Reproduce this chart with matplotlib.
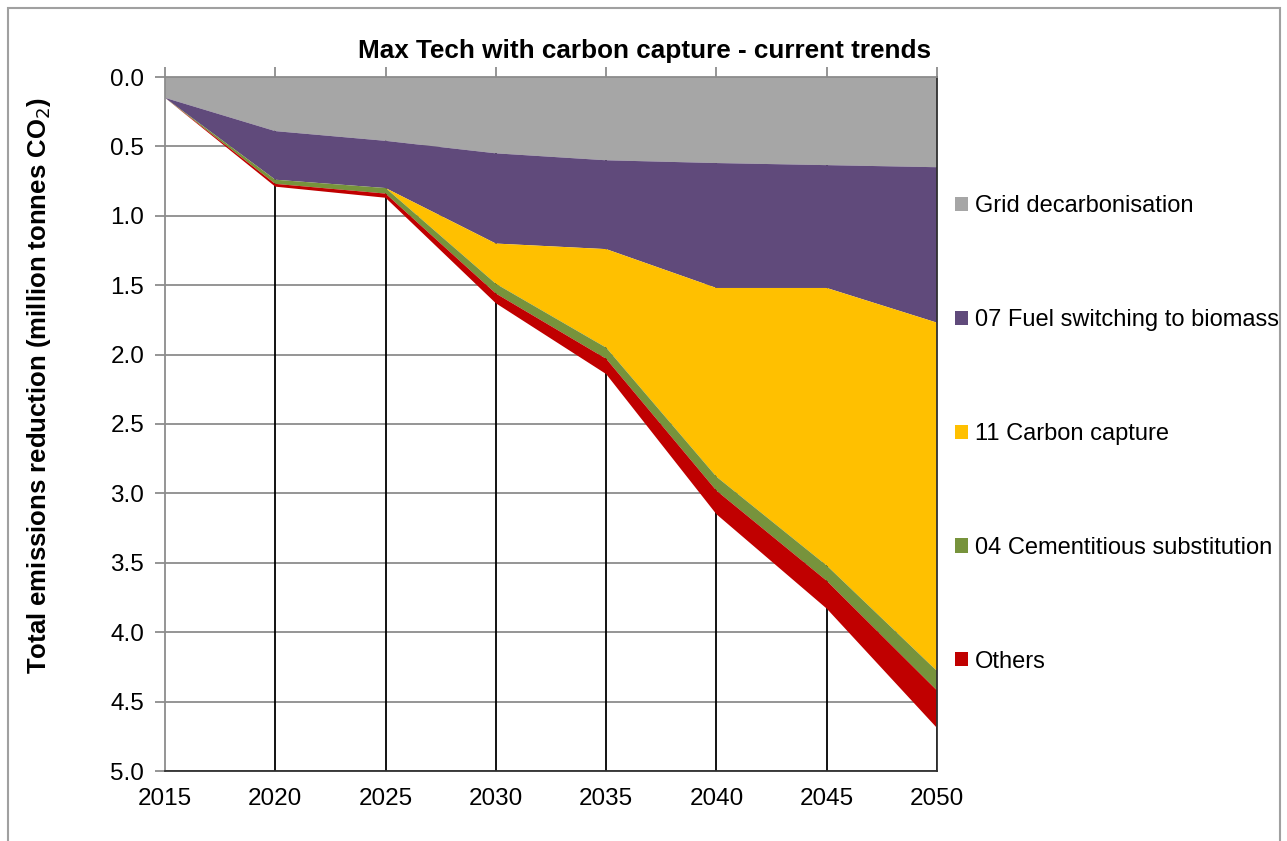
import numpy as np
import matplotlib
matplotlib.use('Agg')
import matplotlib.pyplot as plt
from matplotlib.patches import Patch, Rectangle

plt.rcParams['font.family'] = ['Liberation Sans', 'DejaVu Sans']

years = [2015, 2020, 2025, 2030, 2035, 2040, 2045, 2050]
labels = ['Grid decarbonisation', '07 Fuel switching to biomass', '11 Carbon capture',
          '04 Cementitious substitution', 'Others']
colors = ['#A6A6A6', '#604A7B', '#FFC000', '#77933C', '#C00000']

# reduction per measure (million tonnes CO2)
grid = [0.15, 0.39, 0.46, 0.55, 0.60, 0.62, 0.635, 0.65]
biomass = [0.0, 0.35, 0.34, 0.65, 0.64, 0.90, 0.885, 1.12]
ccs = [0.0, 0.0, 0.0, 0.29, 0.71, 1.36, 2.00, 2.51]
cement = [0.0, 0.03, 0.04, 0.07, 0.08, 0.10, 0.11, 0.14]
others = [0.0, 0.02, 0.03, 0.07, 0.11, 0.17, 0.20, 0.27]

series = [grid, biomass, ccs, cement, others]

fig = plt.figure(figsize=(12.87, 8.41), dpi=100)
ax = fig.add_axes([165/1287, 1 - 771/841, (937-165)/1287, (771-77)/841])

# outer frame of the chart
fig.patches.append(Rectangle((8/1287, -0.01), 1272/1287, 1 - 8/841 + 0.01, transform=fig.transFigure,
                             fill=False, edgecolor='#A0A0A0', linewidth=1.5))

ax.stackplot(years, *series, colors=colors, labels=labels, zorder=3, linewidth=0)
ax.vlines(years[1:], 0, 5, color='black', linewidth=1.3, zorder=2)

ax.set_xlim(2015, 2050)
ax.set_ylim(5, 0)
ax.set_yticks(np.arange(0, 5.01, 0.5))
ax.set_yticklabels(['%.1f' % v for v in np.arange(0, 5.01, 0.5)], fontsize=17.5)
ax.set_xticks(years)
ax.set_xticklabels([str(y) for y in years], fontsize=17.5)
ax.grid(axis='y', color='#8C8C8C', linewidth=1.3, zorder=1)
ax.set_axisbelow(True)

ax.tick_params(axis='x', bottom=False, top=True, labelbottom=True, direction='out',
               length=7, color='#8C8C8C', width=1.3, pad=5)
ax.tick_params(axis='y', direction='out', length=7, color='#8C8C8C', width=1.3, pad=8)
ax.spines['left'].set_color('#8C8C8C')
ax.spines['top'].set_color('#8C8C8C')
ax.spines['bottom'].set_color('#303030')
ax.spines['right'].set_color('#303030')
for s in ax.spines.values():
    s.set_linewidth(1.3)
    s.set_zorder(4)

ax.set_ylabel('Total emissions reduction (million tonnes CO$_2$)', fontsize=18.5,
              fontweight='bold')
ax.yaxis.set_label_coords(-0.145, 0.556)
fig.text(0.501, 1 - 51/841, 'Max Tech with carbon capture - current trends', ha='center',
         va='center', fontsize=18.8, fontweight='bold')

handles = [Patch(facecolor=c, edgecolor='none') for c in colors]
ax.legend(handles, labels, loc='center left', bbox_to_anchor=(1.0105, 0.5 - (434-424)/694),
          frameon=False, fontsize=17, labelspacing=3.89, handlelength=0.55, handleheight=0.55,
          handletextpad=0.3, borderaxespad=0)

fig.savefig('out.png', dpi=100)
